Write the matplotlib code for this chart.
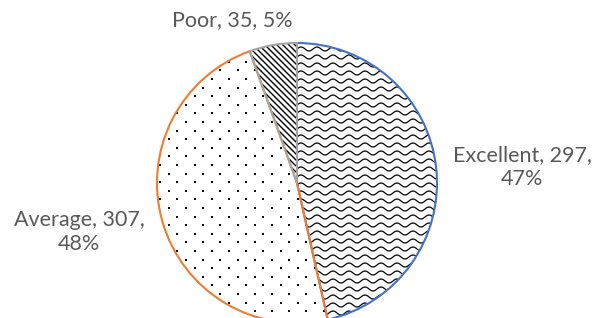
import numpy as np
import matplotlib.pyplot as plt
from matplotlib.collections import LineCollection

labels = ["Excellent", "Average", "Poor"]
counts = [297, 307, 35]
pcts = [47, 48, 5]
edge_colors = ["#4472C4", "#ED7D31", "#A5A5A5"]

W, H = 593, 318
fig = plt.figure(figsize=(W / 100, H / 100), dpi=100)
cx, cy, r = 297, 183, 140
ax = fig.add_axes([(cx - r) / W, (H - cy - r) / H, 2 * r / W, 2 * r / H])
ax.axis("off")

wedges, _ = ax.pie(counts, startangle=90, counterclock=False, radius=1,
                   wedgeprops=dict(facecolor="none", linewidth=1.5),
                   center=(0, 0), frame=False)
for w, c in zip(wedges, edge_colors):
    w.set_edgecolor(c)
    w.set_zorder(3)
ax.set_xlim(-1, 1)
ax.set_ylim(-1, 1)

px = 1 / 140.0

# Excellent: wavy lines
x = np.linspace(-1.1, 1.1, 800)
segs = []
for y0 in np.arange(-1.1, 1.1, 8 * px):
    segs.append(np.column_stack([x, y0 + 2.0 * px * np.sin(2 * np.pi * x / (16 * px))]))
lc = LineCollection(segs, colors="black", linewidths=0.9, zorder=1)
ax.add_collection(lc)
lc.set_clip_path(wedges[0])

# Average: staggered dots
pts = []
for i, y0 in enumerate(np.arange(-1.1, 1.1, 8.6 * px)):
    off = (i % 2) * 8.6 * px
    for x0 in np.arange(-1.1, 1.1, 17.2 * px):
        pts.append((x0 + off, y0))
pts = np.array(pts)
sc = ax.scatter(pts[:, 0], pts[:, 1], s=2.5, c="black", marker="s", linewidths=0, zorder=1)
sc.set_clip_path(wedges[1])

# Poor: diagonal lines
segs = []
for b in np.arange(-2.2, 2.2, 6 * px):
    segs.append([(-1.1, 1.1 + b), (1.1, -1.1 + b)])
lc2 = LineCollection(segs, colors="black", linewidths=1.0, zorder=1)
ax.add_collection(lc2)
lc2.set_clip_path(wedges[2])

tc = "#595959"
font = dict(family="Lato", fontsize=15.5, color=tc, ha="center", va="center", linespacing=1.25)
fig.text(522 / W, 1 - 167 / H, f"{labels[0]}, {counts[0]},\n{pcts[0]}%", **font)
fig.text(79 / W, 1 - 232 / H, f"{labels[1]}, {counts[1]},\n{pcts[1]}%", **font)
fig.text(232 / W, 1 - 20 / H, f"{labels[2]}, {counts[2]}, {pcts[2]}%", **font)

fig.savefig("out.png", dpi=100)
